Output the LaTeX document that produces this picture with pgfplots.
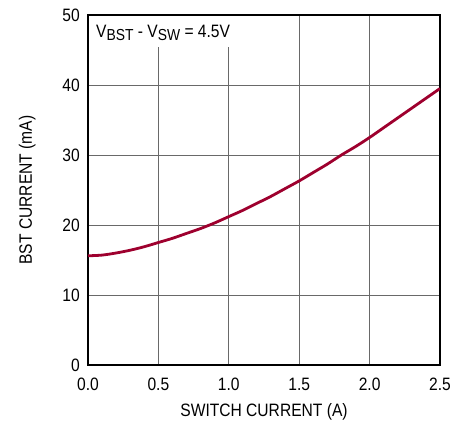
\documentclass[border=0pt]{standalone}
\usepackage{fontspec}
\setmainfont{Liberation Sans}[FakeStretch=0.87]
\usepackage{pgfplots}
\pgfplotsset{compat=1.18}
\definecolor{curvered}{RGB}{158,0,46}
\definecolor{gridgray}{RGB}{105,105,105}

\pgfplotstableread{
x    y
0.0  15.6
0.1  15.7
0.2  16.0
0.3  16.4
0.4  16.9
0.5  17.5
0.6  18.1
0.7  18.8
0.8  19.5
0.9  20.3
1.0  21.2
1.1  22.1
1.2  23.1
1.3  24.1
1.4  25.2
1.5  26.3
1.6  27.5
1.7  28.7
1.8  30.0
1.9  31.2
2.0  32.5
2.1  33.9
2.2  35.3
2.3  36.7
2.4  38.1
2.5  39.5
}\bstcurrent

\begin{document}
\fontsize{18}{21}\selectfont
\begin{tikzpicture}
\begin{axis}[
    width=352bp, height=350bp, scale only axis,
    xmin=0, xmax=2.5, ymin=0, ymax=50,
    xtick={0,0.5,1,1.5,2,2.5},
    ytick={0,10,20,30,40,50},
    grid=major,
    major grid style={gridgray, line width=0.9bp},
    major tick length=0pt,
    axis line style={line width=1.5bp},
    /pgf/number format/assume math mode=true,
    tick label style={font=\fontsize{18}{21}\selectfont},
    x tick label style={anchor=base, yshift=-25bp,
        /pgf/number format/.cd, fixed, fixed zerofill, precision=1},
    y tick label style={anchor=east, inner xsep=0pt, xshift=-8bp},
    xlabel={SWITCH CURRENT (A)},
    ylabel={BST CURRENT (mA)},
    x label style={at={([yshift=-51bp]rel axis cs:0.5,0)}, anchor=base},
    y label style={at={([xshift=-56bp]rel axis cs:0,0.5)}, anchor=base},
]
\addplot[curvered, line width=2.8bp, smooth] table[x=x, y=y] {\bstcurrent};

\node[anchor=north west, fill=white, inner xsep=7bp, inner ysep=9bp,
      text height=12.5bp, text depth=0pt, font=\fontsize{18}{21}\selectfont]
    at ([xshift=1bp, yshift=-1bp]rel axis cs:0,1)
    {V\raisebox{-3bp}{\fontsize{16}{16}\selectfont BST} - V\raisebox{-3bp}{\fontsize{16}{16}\selectfont SW} = 4.5V};

\coordinate (sw) at (rel axis cs:0,0);
\coordinate (ne) at (rel axis cs:1,1);
\end{axis}
\pgfresetboundingbox
\path ([shift={(-88bp,-58bp)}]sw) rectangle ([shift={(21bp,15bp)}]ne);
\end{tikzpicture}
\end{document}
